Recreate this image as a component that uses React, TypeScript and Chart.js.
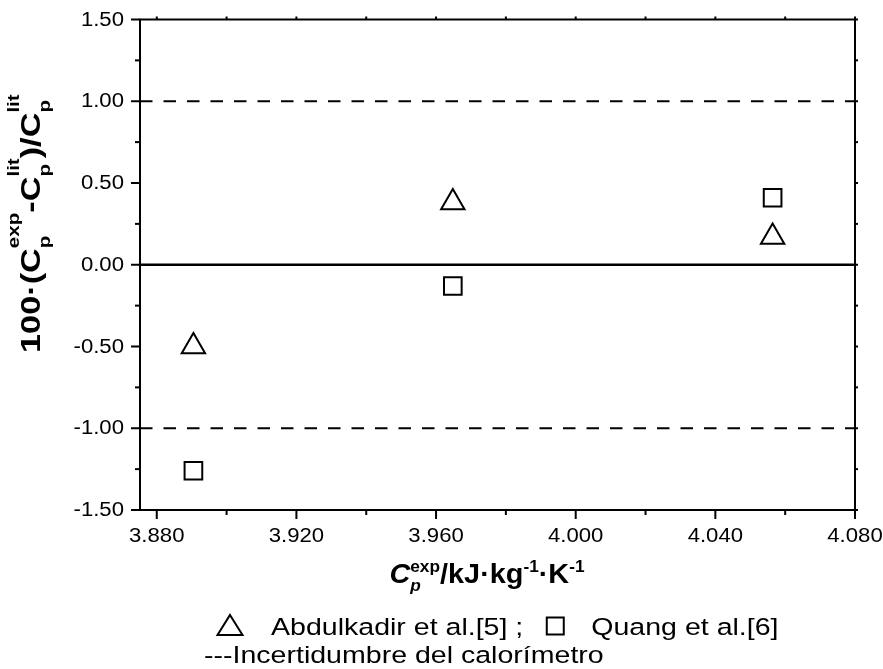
import React, { useEffect, useRef } from 'react';
import { Chart, registerables } from 'chart.js';

Chart.register(...registerables);

// ---- data ----
const abdulkadirX = [3.8905, 3.9648, 4.0564];
const abdulkadirY = [-0.5, 0.38, 0.17];
const quangX = [3.8905, 3.9648, 4.0564];
const quangY = [-1.26, -0.13, 0.41];
const xTicks = [3.88, 3.92, 3.96, 4.0, 4.04, 4.08];
const xMinorTicks = [3.9, 3.94, 3.98, 4.02, 4.06];
const yTicks = [-1.5, -1.0, -0.5, 0, 0.5, 1.0, 1.5];
const yMinorTicks = [-1.25, -0.75, -0.25, 0.25, 0.75, 1.25];
const uncertaintyLimits = [-1, 1];
const zeroLine = [0];
const xRange = [3.8752, 4.08];
const yRange = [-1.5, 1.5];
const legendLabels = ['Abdulkadir et al.[5] ;', 'Quang et al.[6]', '---Incertidumbre del calorímetro'];

type Seg = { t: string; sub?: string; sup?: string; italic?: boolean };

const FAMILY = '"Liberation Sans", Arial, sans-serif';
const font = (size: number, bold: boolean, italic = false) =>
  `${italic ? 'italic ' : ''}${bold ? 'bold ' : ''}${size}px ${FAMILY}`;

function measureRich(ctx: CanvasRenderingContext2D, segs: Seg[], size: number, bold: boolean, ss: number) {
  let w = 0;
  for (const s of segs) {
    ctx.font = font(size, bold, s.italic);
    w += ctx.measureText(s.t).width;
    let sw = 0;
    if (s.sub) { ctx.font = font(size * ss, bold, s.italic); sw = Math.max(sw, ctx.measureText(s.sub).width); }
    if (s.sup) { ctx.font = font(size * ss, bold, false); sw = Math.max(sw, ctx.measureText(s.sup).width); }
    w += sw;
  }
  return w;
}

function drawRich(ctx: CanvasRenderingContext2D, segs: Seg[], x: number, y: number, size: number, bold: boolean, ss: number, subDy: number, supDy: number) {
  let cx = x;
  ctx.textBaseline = 'alphabetic';
  ctx.textAlign = 'left';
  for (const s of segs) {
    ctx.font = font(size, bold, s.italic);
    ctx.fillText(s.t, cx, y);
    cx += ctx.measureText(s.t).width;
    let sw = 0;
    if (s.sub) {
      ctx.font = font(size * ss, bold, s.italic);
      ctx.fillText(s.sub, cx, y + subDy * size);
      sw = Math.max(sw, ctx.measureText(s.sub).width);
    }
    if (s.sup) {
      ctx.font = font(size * ss, bold, false);
      ctx.fillText(s.sup, cx, y + supDy * size);
      sw = Math.max(sw, ctx.measureText(s.sup).width);
    }
    cx += sw;
  }
}

function stretchedText(ctx: CanvasRenderingContext2D, text: string, x: number, y: number, align: 'left' | 'right' | 'center', sx: number, baseline: CanvasTextBaseline) {
  const w = ctx.measureText(text).width * sx;
  let left = x;
  if (align === 'right') left = x - w;
  if (align === 'center') left = x - w / 2;
  ctx.save();
  ctx.translate(left, y);
  ctx.scale(sx, 1);
  ctx.textAlign = 'left';
  ctx.textBaseline = baseline;
  ctx.fillText(text, 0, 0);
  ctx.restore();
}

const yTitle: Seg[] = [
  { t: '100·(C', sub: 'p', sup: 'exp' },
  { t: '-C', sub: 'p', sup: 'lit' },
  { t: ')/C', sub: 'p', sup: 'lit' },
];
const xTitle: Seg[] = [
  { t: 'C', sub: 'p', sup: 'exp', italic: true },
  { t: '/kJ·kg', sup: '-1' },
  { t: '·K', sup: '-1' },
];

const framePlugin = {
  id: 'framePlugin',
  beforeDatasetsDraw(chart: any) {
    const { ctx, chartArea: a, scales } = chart;
    const y = scales.y;
    ctx.save();
    ctx.strokeStyle = '#000';
    ctx.lineWidth = 2;
    ctx.setLineDash([12.5, 11]);
    for (const v of uncertaintyLimits) {
      const py = y.getPixelForValue(v);
      ctx.beginPath(); ctx.moveTo(a.left, py); ctx.lineTo(a.right, py); ctx.stroke();
    }
    ctx.setLineDash([]);
    ctx.lineWidth = 2.5;
    for (const v of zeroLine) {
      const py = y.getPixelForValue(v);
      ctx.beginPath(); ctx.moveTo(a.left, py); ctx.lineTo(a.right, py); ctx.stroke();
    }
    ctx.restore();
  },
  afterDraw(chart: any) {
    const { ctx, chartArea: a, scales } = chart;
    const x = scales.x, y = scales.y;
    ctx.save();
    ctx.strokeStyle = '#000';
    ctx.fillStyle = '#000';
    ctx.lineWidth = 2;
    ctx.lineCap = 'butt';
    // frame
    ctx.beginPath();
    ctx.rect(a.left, a.top, a.right - a.left, a.bottom - a.top);
    ctx.stroke();
    const seg = (x1: number, y1: number, x2: number, y2: number) => {
      ctx.beginPath(); ctx.moveTo(x1, y1); ctx.lineTo(x2, y2); ctx.stroke();
    };
    for (const v of yTicks) {
      const py = y.getPixelForValue(v);
      seg(a.left - 9, py, a.left, py);
      seg(a.right, py, a.right + 3, py);
    }
    for (const v of yMinorTicks) {
      const py = y.getPixelForValue(v);
      seg(a.left - 5, py, a.left, py);
      seg(a.right, py, a.right + 3, py);
    }
    for (const v of xTicks) {
      const px = x.getPixelForValue(v);
      seg(px, a.bottom, px, a.bottom + 9);
      seg(px, a.top - 3, px, a.top);
    }
    for (const v of xMinorTicks) {
      const px = x.getPixelForValue(v);
      seg(px, a.bottom, px, a.bottom + 5);
      seg(px, a.top - 3, px, a.top);
    }
    // tick labels
    ctx.font = font(20.5, false);
    for (const v of yTicks) {
      stretchedText(ctx, v.toFixed(2), a.left - 16, y.getPixelForValue(v) + 0.5, 'right', 1.08, 'middle');
    }
    for (const v of xTicks) {
      stretchedText(ctx, v.toFixed(3), x.getPixelForValue(v), a.bottom + 32, 'center', 1.08, 'alphabetic');
    }
    // y title
    {
      const size = 27, sx = 1.27;
      ctx.save();
      ctx.translate(40, 353);
      ctx.rotate(-Math.PI / 2);
      ctx.scale(sx, 1);
      drawRich(ctx, yTitle, 0, 0, size, true, 0.6, 0.36, -0.76);
      ctx.restore();
    }
    // x title
    {
      const size = 28, sx = 1.03;
      const w = measureRich(ctx, xTitle, size, true, 0.6) * sx;
      const cx = 487;
      ctx.save();
      ctx.translate(cx - w / 2, a.bottom + 73);
      ctx.scale(sx, 1);
      drawRich(ctx, xTitle, 0, 0, size, true, 0.6, 0.3, -0.4);
      ctx.restore();
    }
    // legend
    {
      const lsx = 1.165;
      const base1 = 635, base2 = 663;
      ctx.lineWidth = 2;
      const tx = 230, ty = 626;
      ctx.beginPath();
      ctx.moveTo(tx, ty - 11);
      ctx.lineTo(tx + 12.5, ty + 9);
      ctx.lineTo(tx - 12.5, ty + 9);
      ctx.closePath();
      ctx.stroke();
      ctx.font = font(24.5, false);
      const x1 = 271;
      stretchedText(ctx, legendLabels[0], x1, base1, 'left', lsx, 'alphabetic');
      const w0 = ctx.measureText(legendLabels[0]).width * lsx;
      const sqx = x1 + w0 + 32;
      ctx.strokeRect(sqx - 8.5, 626 - 8.5, 17, 17);
      stretchedText(ctx, legendLabels[1], sqx + 36, base1, 'left', lsx, 'alphabetic');
      stretchedText(ctx, legendLabels[2], 204, base2, 'left', lsx, 'alphabetic');
    }
    ctx.restore();
  },
};

export default function App() {
  const ref = useRef<HTMLCanvasElement>(null);
  useEffect(() => {
    if (!ref.current) return;
    const chart = new Chart(ref.current, {
      type: 'scatter',
      data: {
        datasets: [
          {
            label: 'Abdulkadir et al.[5]',
            data: abdulkadirX.map((v, i) => ({ x: v, y: abdulkadirY[i] })),
            pointStyle: 'triangle',
            pointRadius: 13.5,
            pointHoverRadius: 13.5,
            borderWidth: 2,
            borderColor: '#000',
            backgroundColor: 'rgba(0,0,0,0)',
          },
          {
            label: 'Quang et al.[6]',
            data: quangX.map((v, i) => ({ x: v, y: quangY[i] })),
            pointStyle: 'rect',
            pointRadius: 12.5,
            pointHoverRadius: 12.5,
            borderWidth: 2,
            borderColor: '#000',
            backgroundColor: 'rgba(0,0,0,0)',
          },
        ],
      },
      options: {
        responsive: false,
        animation: false,
        devicePixelRatio: 1,
        layout: { padding: { left: 140, top: 19.5, right: 28, bottom: 159 } },
        plugins: { legend: { display: false }, tooltip: { enabled: false } },
        events: [],
        scales: {
          x: { type: 'linear', min: xRange[0], max: xRange[1], display: false },
          y: { type: 'linear', min: yRange[0], max: yRange[1], display: false },
        },
      },
      plugins: [framePlugin],
    });
    return () => chart.destroy();
  }, []);
  return (
    <canvas
      ref={ref}
      width={883}
      height={669}
      style={{ position: 'absolute', left: 0, top: 0, width: 883, height: 669, display: 'block', background: '#fff' }}
    />
  );
}
